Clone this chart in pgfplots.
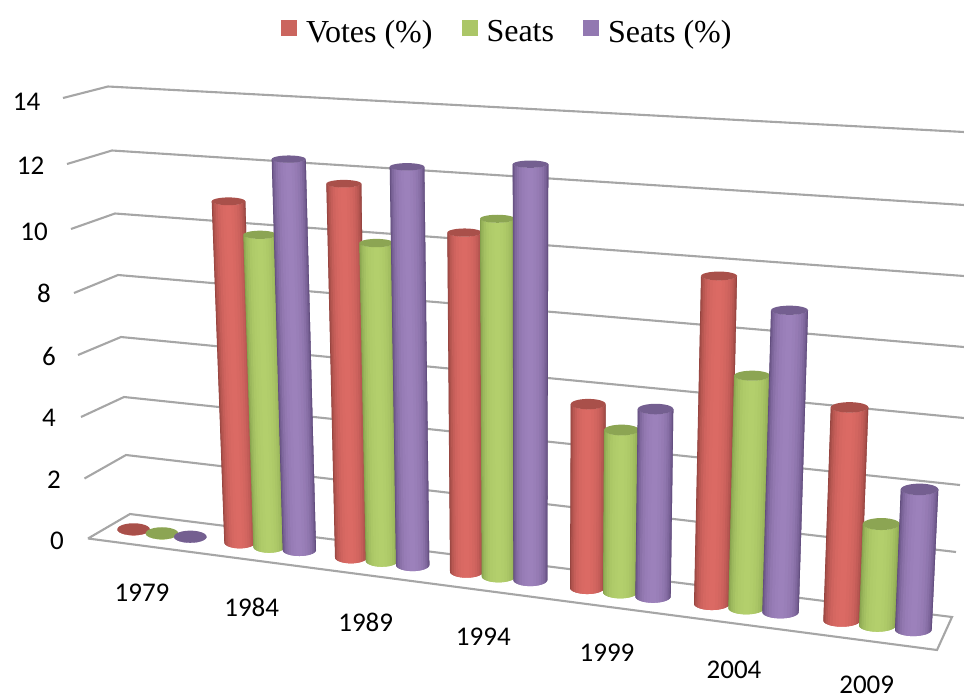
\documentclass[border=0pt]{standalone}
\usepackage{fontspec}
\setmainfont{Liberation Serif}
\newfontfamily\carlito{Carlito}
\usepackage{pgfplots}
\usepackage{pgfplotstable}
\pgfplotsset{compat=1.18}

% Series colours: body highlight, body edge, end cap, legend swatch
\definecolor{vbase}{HTML}{DB6A64}
\definecolor{vdark}{HTML}{8E403C}
\definecolor{vcap}{HTML}{A9504A}
\definecolor{vlegend}{HTML}{CB655E}
\definecolor{sbase}{HTML}{B3CF6C}
\definecolor{sdark}{HTML}{7F9A49}
\definecolor{scap}{HTML}{8CA553}
\definecolor{slegend}{HTML}{ABC667}
\definecolor{pbase}{HTML}{9C81BB}
\definecolor{pdark}{HTML}{5C4878}
\definecolor{pcap}{HTML}{745F90}
\definecolor{plegend}{HTML}{9278B1}
\definecolor{gridgray}{HTML}{A6A6A6}

\tikzset{lab/.style={inner sep=0pt, font=\carlito\fontsize{27}{28}\selectfont}}

% Unit circle used for the end caps
\pgfplotstableread{
c s
1.000 0.000
0.966 0.259
0.866 0.500
0.707 0.707
0.500 0.866
0.259 0.966
0.000 1.000
-0.259 0.966
-0.500 0.866
-0.707 0.707
-0.866 0.500
-0.966 0.259
-1.000 0.000
-0.966 -0.259
-0.866 -0.500
-0.707 -0.707
-0.500 -0.866
-0.259 -0.966
0.000 -1.000
0.259 -0.966
0.500 -0.866
0.707 -0.707
0.866 -0.500
0.966 -0.259
}\unitcircle

% One cylinder: series, base centre x, base centre y, base radius,
% top centre x, top radius, value.
% The body is painted left to right in overlapping strips, each one
% reaching across the next, so that no seam shows between them.
\newcommand{\cyl}[7]{%
  \pgfmathsetmacro\cylscale{31+0.0048*(#2-88)}%
  \pgfmathsetmacro\cylyt{#3-#7*\cylscale}%
  \pgfmathsetmacro\cylryt{2.6+0.0065*\cylyt}%
  \pgfmathsetmacro\cylryb{2.6+0.0062*#3}%
  \pgfplotsforeachungrouped \k in {0,...,17}{%
    \pgfmathsetmacro\cyla{-90+\k*10}%
    \pgfmathsetmacro\cylb{min(\cyla+10,90)}%
    \pgfmathsetmacro\cylc{min(\cyla+20,90)}%
    \pgfmathsetmacro\cylmix{{0,18,38,56,72,84,92,97,100,100,96,90,82,70,55,38,20,0}[\k]}%
    \pgfmathsetmacro\xba{#2+#4*sin(\cyla)}%
    \pgfmathsetmacro\xbb{#2+#4*sin(\cylb)}%
    \pgfmathsetmacro\xbc{#2+#4*sin(\cylc)}%
    \pgfmathsetmacro\yba{#3+\cylryb*cos(\cyla)}%
    \pgfmathsetmacro\ybb{#3+\cylryb*cos(\cylb)}%
    \pgfmathsetmacro\ybc{#3+\cylryb*cos(\cylc)}%
    \pgfmathsetmacro\xta{#5+#6*sin(\cyla)}%
    \pgfmathsetmacro\xtc{#5+#6*sin(\cylc)}%
    \pgfmathsetmacro\yta{\cylyt+\cylryt*cos(\cyla)}%
    \pgfmathsetmacro\ytc{\cylyt+\cylryt*cos(\cylc)}%
    \edef\cylstrip{\noexpand\addplot[forget plot, draw=none,
        fill=#1base!\cylmix!#1dark]
      coordinates {(\xba,\yba)(\xbb,\ybb)(\xbc,\ybc)(\xtc,\ytc)(\xta,\yta)};}%
    \cylstrip
  }%
  \addplot[forget plot, fill=#1cap, draw=none]
    table[x expr=#5+#6*\thisrow{c}, y expr=\cylyt+\cylryt*\thisrow{s}] {\unitcircle};
}

\begin{document}
\begin{tikzpicture}[x=1pt,y=1pt]
\useasboundingbox (0,0) rectangle (964,696);
\begin{axis}[
  at={(0,0)}, anchor=south west,
  scale only axis, width=964pt, height=696pt,
  xmin=0, xmax=964, ymin=0, ymax=696, y dir=reverse,
  hide axis, clip=true,
  legend columns=-1,
  legend style={
    at={(axis cs:281,20)}, anchor=north west, draw=none, fill=none,
    inner sep=0pt, outer sep=0pt,
    font=\fontsize{32}{34}\selectfont,
    nodes={inner sep=0pt},
    /tikz/every even column/.append style={column sep=29pt},
    /tikz/every odd column/.append style={column sep=9pt},
  },
  legend image code/.code={\fill[#1] (0pt,-4pt) rectangle (16pt,12pt);},
]
% Wall and floor lines, one per level
\pgfplotsset{gridline/.style={forget plot, color=gridgray, line width=2.1pt}}
\addplot[gridline] coordinates {(63,98)(108,86.5)(964,132)};
\addplot[gridline] coordinates {(67,164)(112,150.5)(964,205)};
\addplot[gridline] coordinates {(71,229)(115,213.5)(964,276)};
\addplot[gridline] coordinates {(74,293)(118,275)(964,347)};
\addplot[gridline] coordinates {(78,355)(121,337)(964,418)};
\addplot[gridline] coordinates {(81,417)(124,397)(960,485)};
\addplot[gridline] coordinates {(84.5,478.5)(126,455)(956,552)};
\addplot[gridline] coordinates {(88,538.5)(130,514)(952,617)(937,650)(88,538.5)};

% 1979
\cyl{v}{133.6}{529.3}{16.3}{133.6}{16.3}{0}
\cyl{s}{162.0}{533.3}{16.3}{162.0}{16.3}{0}
\cyl{p}{190.3}{536.7}{16.3}{190.3}{16.3}{0}
% 1984
\cyl{v}{239.8}{542.4}{15.5}{228.5}{16.8}{10.75}
\cyl{s}{269.1}{546.8}{15.8}{260.1}{16.8}{9.79}
\cyl{p}{299.35}{550.0}{16.65}{288.7}{17.0}{12.21}
% 1989
\cyl{v}{351.0}{557.3}{16.0}{343.8}{17.5}{11.58}
\cyl{s}{381.9}{560.7}{16.2}{376.5}{17.2}{9.80}
\cyl{p}{412.65}{565.0}{16.65}{407.0}{17.3}{12.23}
% 1994
\cyl{v}{466.6}{571.6}{16.6}{464.6}{17.3}{10.33}
\cyl{s}{498.6}{576.2}{16.9}{497.4}{17.4}{10.84}
\cyl{p}{530.3}{579.9}{17.0}{530.5}{17.8}{12.55}
% 1999
\cyl{v}{587.2}{587.8}{17.2}{588.2}{17.5}{5.50}
\cyl{s}{620.3}{592.1}{17.3}{621.6}{17.6}{4.83}
\cyl{p}{653.0}{596.5}{17.7}{655.5}{17.8}{5.56}
% 2004
\cyl{v}{711.8}{603.7}{17.8}{719.0}{18.0}{9.64}
\cyl{s}{746.3}{608.0}{18.0}{752.2}{18.2}{6.80}
\cyl{p}{780.5}{612.0}{18.2}{789.5}{18.5}{8.79}
% 2009
\cyl{v}{841.8}{620.3}{18.5}{849.5}{18.8}{6.15}
\cyl{s}{877.5}{625.3}{18.5}{881.3}{18.6}{2.91}
\cyl{p}{913.35}{629.6}{18.35}{919.5}{18.8}{4.01}

% Legend
\addlegendimage{draw=none, fill=vlegend}
\addlegendentry{Votes (\%)}
\addlegendimage{draw=none, fill=slegend}
\addlegendentry{Seats}
\addlegendimage{draw=none, fill=plegend}
\addlegendentry{Seats (\%)}

% Value labels beside the left edge
\node[lab] at (axis cs:26.5,101.5) {14};
\node[lab] at (axis cs:30.5,166) {12};
\node[lab] at (axis cs:34,231.5) {10};
\node[lab] at (axis cs:44,293) {8};
\node[lab] at (axis cs:49,356) {6};
\node[lab] at (axis cs:49,418) {4};
\node[lab] at (axis cs:54,480) {2};
\node[lab] at (axis cs:57,541) {0};
% Category labels below the floor
\node[lab] at (axis cs:142,593) {1979};
\node[lab] at (axis cs:251.7,607) {1984};
\node[lab] at (axis cs:365.7,622) {1989};
\node[lab] at (axis cs:483.3,637) {1994};
\node[lab] at (axis cs:607,653) {1999};
\node[lab] at (axis cs:734,670) {2004};
\node[lab] at (axis cs:866.7,684.5) {2009};
\end{axis}
\end{tikzpicture}
\end{document}
